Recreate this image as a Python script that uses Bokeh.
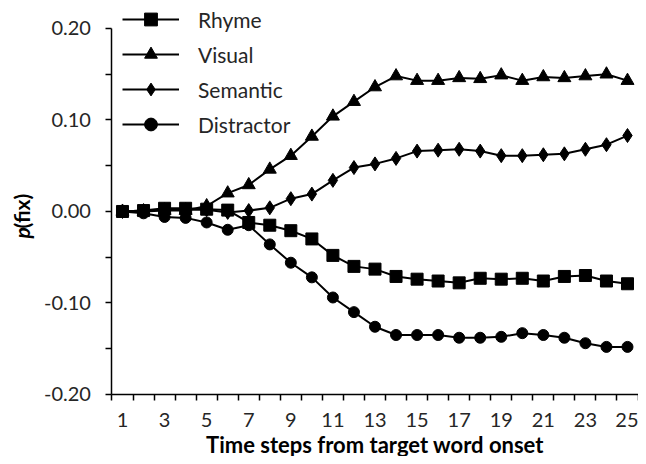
import math
from bokeh.plotting import figure
from bokeh.models import (Range1d, FixedTicker, Legend, LegendItem, Label)
from bokeh.embed import file_html
from bokeh.resources import INLINE

steps = list(range(1, 26))
tick_labels = [str(i) for i in range(1, 26, 2)]

rhyme = [0.000, 0.001, 0.0035, 0.0035, 0.0025, 0.0015, -0.012, -0.015, -0.021, -0.030,
         -0.048, -0.060, -0.063, -0.071, -0.074, -0.076, -0.078, -0.073, -0.074, -0.073,
         -0.076, -0.071, -0.070, -0.076, -0.079]
visual = [0.000, 0.000, 0.001, 0.001, 0.006, 0.020, 0.029, 0.046, 0.061, 0.082,
          0.104, 0.120, 0.136, 0.148, 0.143, 0.143, 0.146, 0.145, 0.149, 0.143,
          0.147, 0.146, 0.148, 0.150, 0.143]
semantic = [0.000, 0.001, 0.002, 0.002, 0.002, -0.001, 0.001, 0.004, 0.014, 0.019,
            0.034, 0.048, 0.052, 0.058, 0.066, 0.067, 0.068, 0.066, 0.061, 0.061,
            0.062, 0.063, 0.068, 0.073, 0.083]
distractor = [0.000, -0.002, -0.006, -0.007, -0.012, -0.020, -0.015, -0.036, -0.056, -0.072,
              -0.094, -0.110, -0.126, -0.135, -0.135, -0.135, -0.138, -0.138, -0.137, -0.133,
              -0.135, -0.138, -0.144, -0.148, -0.148]

series = [
    ("Rhyme", rhyme, "square", 12),
    ("Visual", visual, "triangle", 13),
    ("Semantic", semantic, "diamond", 14),
    ("Distractor", distractor, "circle", 11),
]

FONT = "Lato"
TXT = "#262626"

# The frame fills the whole canvas; axes are pinned inside it at fixed locations
p = figure(width=638, height=456, output_backend="svg", toolbar_location=None,
           x_range=Range1d(-4.798, 25.523), y_range=Range1d(-0.2678, 0.2306),
           min_border_left=0, min_border_top=0, min_border_right=0, min_border_bottom=0)
p.outline_line_color = None
p.xgrid.visible = False
p.ygrid.visible = False
p.background_fill_color = "white"
p.border_fill_color = "white"

items = []
for name, vals, marker, size in series:
    lr = p.line(steps, vals, line_color="black", line_width=2)
    sr = p.scatter(steps, vals, marker=marker, size=size, fill_color="black", line_color="black")
    items.append(LegendItem(label=name, renderers=[lr, sr]))

# x axis
xa = p.xaxis[0]
xa.fixed_location = -0.2
xa.bounds = (0.5, 25.5)
xa.ticker = FixedTicker(ticks=[int(t) for t in tick_labels],
                        minor_ticks=[i + 0.5 for i in range(0, 26)])
xa.major_tick_out = 0
xa.major_tick_in = 0
xa.minor_tick_out = 6
xa.minor_tick_in = 0
xa.minor_tick_line_color = "black"
xa.minor_tick_line_width = 1.5
xa.axis_line_color = "black"
xa.axis_line_width = 1.5
xa.major_label_text_font = FONT
xa.major_label_text_font_size = "20px"
xa.major_label_text_color = TXT
xa.major_label_standoff = 13
xa.axis_label = "Time steps from target word onset"
xa.axis_label_text_font = FONT
xa.axis_label_text_font_style = "bold"
xa.axis_label_text_font_size = "22px"
xa.axis_label_text_color = "black"
xa.axis_label_standoff = 0

# y axis
ya = p.yaxis[0]
ya.fixed_location = 0.5
ya.bounds = (-0.2, 0.2)
ya.ticker = FixedTicker(ticks=[-0.2, -0.1, 0.0, 0.1, 0.2],
                        minor_ticks=[-0.15, -0.05, 0.05, 0.15])
ya.major_label_overrides = {-0.2: "-0.20", -0.1: "-0.10", 0.0: "0.00", 0.1: "0.10", 0.2: "0.20"}
ya.major_tick_out = 6
ya.major_tick_in = 0
ya.minor_tick_out = 6
ya.minor_tick_in = 0
ya.major_tick_line_width = 1.5
ya.minor_tick_line_width = 1.5
ya.minor_tick_line_color = "black"
ya.axis_line_color = "black"
ya.axis_line_width = 1.5
ya.major_label_text_font = FONT
ya.major_label_text_font_size = "20px"
ya.major_label_text_color = TXT
ya.major_label_standoff = 15
ya.axis_label = None

# y axis title: italic p + bold (fix)
lab_p = Label(x=21, y=218, x_units="screen", y_units="screen", text="p",
              angle=math.pi / 2, text_align="left", text_baseline="middle",
              text_font=FONT, text_font_style="bold italic", text_font_size="21px",
              text_color="black")
lab_f = Label(x=21, y=228, x_units="screen", y_units="screen", text="(fix)",
              angle=math.pi / 2, text_align="left", text_baseline="middle",
              text_font=FONT, text_font_style="bold", text_font_size="21px",
              text_color="black")
p.add_layout(lab_p)
p.add_layout(lab_f)

legend = Legend(items=items, location=(122, 316), orientation="vertical",
                glyph_width=57, glyph_height=32, label_height=32, spacing=3,
                padding=0, margin=0, label_standoff=19,
                label_text_font=FONT, label_text_font_size="21px", label_text_color=TXT,
                border_line_alpha=0, background_fill_alpha=0)
p.add_layout(legend, "center")

open("out.html", "w").write(file_html(p, INLINE))
